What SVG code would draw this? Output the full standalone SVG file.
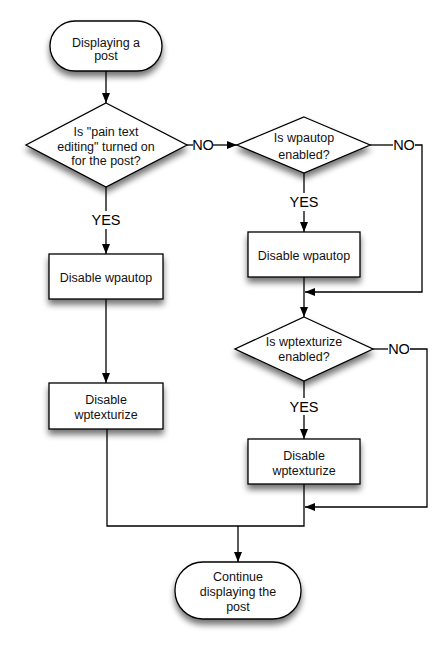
<svg xmlns="http://www.w3.org/2000/svg" width="441" height="650" viewBox="0 0 441 650">
<defs>
<filter id="sh" x="-20%" y="-20%" width="140%" height="160%">
<feGaussianBlur in="SourceAlpha" stdDeviation="3"/>
<feOffset dx="0" dy="5" result="b"/>
<feComponentTransfer><feFuncA type="linear" slope="0.55"/></feComponentTransfer>
<feMerge><feMergeNode/><feMergeNode in="SourceGraphic"/></feMerge>
</filter>
<marker id="ah" viewBox="0 0 10 8" refX="10" refY="4" markerWidth="10" markerHeight="8" markerUnits="userSpaceOnUse" orient="auto">
<path d="M0,0 L10,4 L0,8 z" fill="#000"/>
</marker>
<style>
.s{fill:#fff;stroke:#000;stroke-width:1.3;filter:url(#sh)}
.t{font-family:"Liberation Sans",Arial,sans-serif;font-size:12.5px;fill:#111;text-anchor:middle}
.l{font-family:"Liberation Sans",Arial,sans-serif;font-size:14.5px;fill:#000;text-anchor:middle}
.c{fill:none;stroke:#000;stroke-width:1.3}
.a{marker-end:url(#ah)}
</style>
</defs>
<rect width="441" height="650" fill="#fff"/>
<g id="connectors">
<path class="c a" d="M106,71 V103"/>
<path class="c" d="M187,145 H193"/>
<path class="c a" d="M213,145 H237"/>
<path class="c" d="M106,187 V211"/>
<path class="c a" d="M106,229 V254"/>
<path class="c a" d="M106,299 V383"/>
<path class="c" d="M304,173 V193"/>
<path class="c a" d="M304,211 V232"/>
<path class="c a" d="M304,277 V317"/>
<path class="c" d="M370,145 H393"/>
<path class="c a" d="M415,145 H422 V292 H305"/>
<path class="c" d="M304,381 V398"/>
<path class="c a" d="M304,415 V439"/>
<path class="c" d="M373,349 H388"/>
<path class="c a" d="M410,349 H427 V507 H305"/>
<path class="c" d="M304,484 V526 H107 V429"/>
<path class="c a" d="M238,526 V562"/>
<text class="l" x="203" y="150">NO</text>
<text class="l" x="404" y="150">NO</text>
<text class="l" x="399" y="354">NO</text>
<text class="l" x="106" y="225">YES</text>
<text class="l" x="304" y="207">YES</text>
<text class="l" x="304" y="412">YES</text>
</g>
<g id="start">
<rect class="s" x="50" y="21" width="112" height="50" rx="25" ry="25"/>
<text class="t" x="106" y="47">Displaying a</text>
<text class="t" x="106" y="60">post</text>
</g>
<g id="d1">
<polygon class="s" points="106,103 187,145 106,187 26,145"/>
<text class="t" x="106" y="136">Is "pain text</text>
<text class="t" x="106" y="151">editing" turned on</text>
<text class="t" x="106" y="165">for the post?</text>
</g>
<g id="d2">
<polygon class="s" points="304,117 370,145 304,173 237,145"/>
<text class="t" x="304" y="142">Is wpautop</text>
<text class="t" x="304" y="159">enabled?</text>
</g>
<g id="r1">
<rect class="s" x="49" y="254" width="114" height="45"/>
<text class="t" x="106" y="282">Disable wpautop</text>
</g>
<g id="r2">
<rect class="s" x="248" y="232" width="112" height="45"/>
<text class="t" x="304" y="260">Disable wpautop</text>
</g>
<g id="d3">
<polygon class="s" points="304,317 373,349 304,381 235,349"/>
<text class="t" x="304" y="346">Is wptexturize</text>
<text class="t" x="304" y="361">enabled?</text>
</g>
<g id="r3">
<rect class="s" x="49" y="383" width="114" height="46"/>
<text class="t" x="106" y="404">Disable</text>
<text class="t" x="106" y="419">wptexturize</text>
</g>
<g id="r4">
<rect class="s" x="248" y="439" width="112" height="45"/>
<text class="t" x="304" y="460">Disable</text>
<text class="t" x="304" y="475">wptexturize</text>
</g>
<g id="end">
<rect class="s" x="175" y="562" width="126" height="57" rx="28" ry="28"/>
<text class="t" x="238" y="581">Continue</text>
<text class="t" x="238" y="596">displaying the</text>
<text class="t" x="238" y="611">post</text>
</g>
</svg>
